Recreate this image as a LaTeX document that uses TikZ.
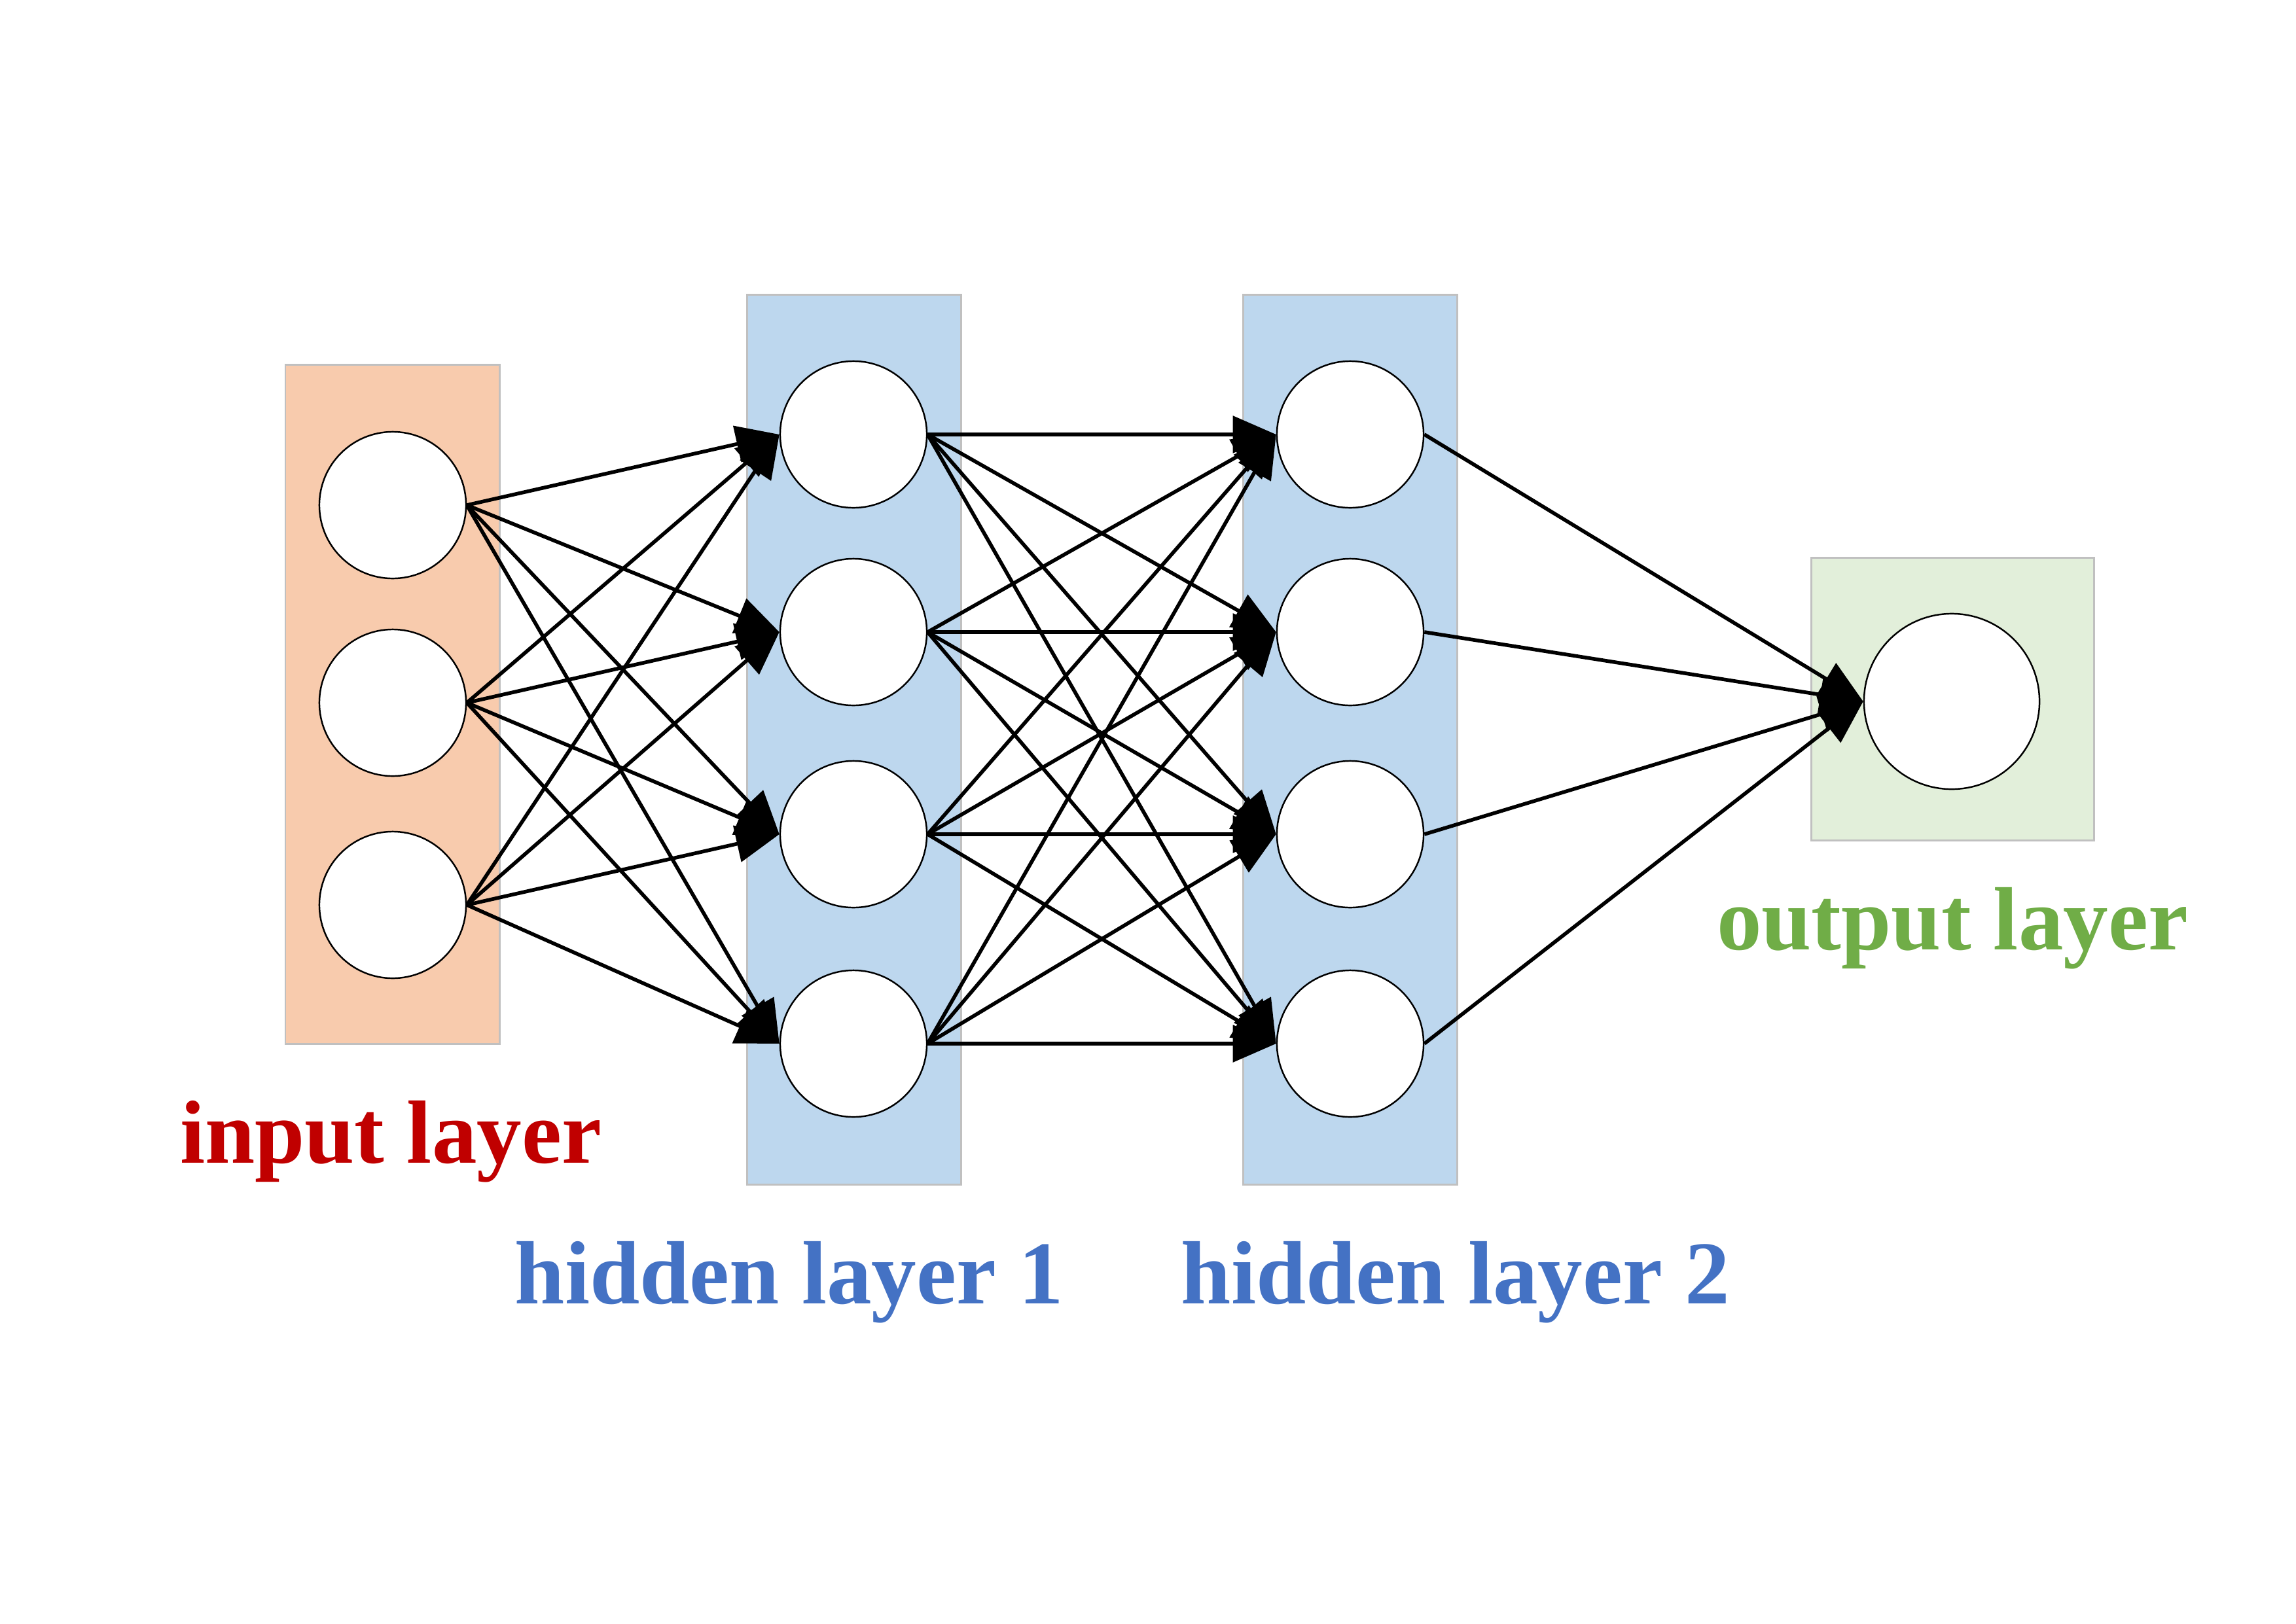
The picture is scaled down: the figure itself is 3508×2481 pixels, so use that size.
\documentclass[tikz,border=0pt]{standalone}
\usepackage{fontspec}
\setmainfont{Liberation Serif}
\usetikzlibrary{arrows.meta}
\definecolor{inFill}{HTML}{F8CBAD}
\definecolor{hidFill}{HTML}{BDD7EE}
\definecolor{outFill}{HTML}{E2EFDA}
\definecolor{boxLine}{HTML}{C0C0C0}
\definecolor{inText}{HTML}{C00000}
\definecolor{hidText}{HTML}{4472C4}
\definecolor{outText}{HTML}{70AD47}
\begin{document}
\begin{tikzpicture}[x=0.01cm,y=-0.01cm,
  layerbox/.style={draw=boxLine,line width=0.85pt},
  neuron/.style={circle,draw=black,fill=white,line width=0.7pt,inner sep=0pt,minimum size=2.24cm},
  bigneuron/.style={neuron,minimum size=2.68cm},
  edge/.style={draw=black,line width=1.6pt,-{Triangle[length=0.66cm,width=0.56cm]}},
  lbl/.style={anchor=base,font=\bfseries\fontsize{39}{47}\selectfont,inner sep=0pt}]
\useasboundingbox (0,0) rectangle (3508,2481);
% layer boxes
\path[layerbox,fill=inFill] (436,557) rectangle (763,1595);
\path[layerbox,fill=hidFill] (1141,450) rectangle (1468,1810);
\path[layerbox,fill=hidFill] (1899,450) rectangle (2226,1810);
\path[layerbox,fill=outFill] (2767,852) rectangle (3199,1284);
% neurons
\node[neuron] (i1) at (600,772) {};
\node[neuron] (i2) at (600,1074) {};
\node[neuron] (i3) at (600,1383) {};
\node[neuron] (a1) at (1304,664) {};
\node[neuron] (a2) at (1304,966) {};
\node[neuron] (a3) at (1304,1275) {};
\node[neuron] (a4) at (1304,1595) {};
\node[neuron] (b1) at (2063,664) {};
\node[neuron] (b2) at (2063,966) {};
\node[neuron] (b3) at (2063,1275) {};
\node[neuron] (b4) at (2063,1595) {};
\node[bigneuron] (o1) at (2982,1072) {};
% connections
\foreach \s in {i1,i2,i3}
  \foreach \t in {a1,a2,a3,a4}
    \draw[edge] (\s.east) -- (\t.west);
\foreach \s in {a1,a2,a3,a4}
  \foreach \t in {b1,b2,b3,b4}
    \draw[edge] (\s.east) -- (\t.west);
\foreach \s in {b1,b2,b3,b4}
  \draw[edge] (\s.east) -- (o1.west);
% labels
\node[lbl,text=inText] (linput) at (597,1777) {input layer};
\node[lbl,text=hidText] (lhid1) at (1206,1992) {hidden layer 1};
\node[lbl,text=hidText] (lhid2) at (2224,1992) {hidden layer 2};
\node[lbl,text=outText] (lout) at (2983,1451) {output layer};
\end{tikzpicture}
\end{document}
